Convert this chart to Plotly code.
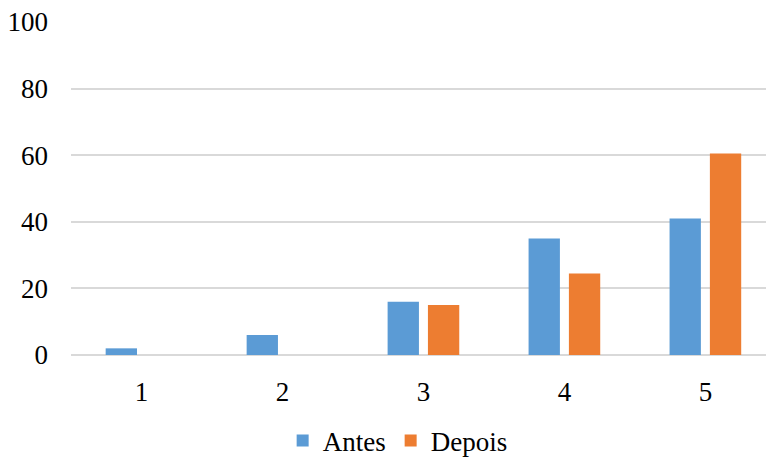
import plotly.graph_objects as go

categories = [1, 2, 3, 4, 5]
antes = [2, 6, 16, 35, 41]
depois = [0, 0, 15, 24.5, 60.5]
y_ticks = [0, 20, 40, 60, 80, 100]

font = dict(family="Liberation Serif", size=27, color="#000000")

fig = go.Figure()
fig.add_trace(go.Bar(
    x=categories, y=antes, name="Antes",
    marker=dict(color="#5B9BD5", line=dict(width=0)),
))
fig.add_trace(go.Bar(
    x=categories, y=depois, name="Depois",
    marker=dict(color="#ED7D31", line=dict(width=0)),
))

fig.update_layout(
    width=766, height=457,
    margin=dict(l=71, r=0, t=22, b=102, autoexpand=False),
    paper_bgcolor="white", plot_bgcolor="white",
    font=font,
    barmode="group", bargap=0.428, bargroupgap=0.223,
    showlegend=True,
    legend=dict(
        orientation="h", x=0.47, xanchor="center", y=-0.258, yanchor="middle",
        font=font, traceorder="normal", itemwidth=30,
    ),
)
fig.update_xaxes(
    range=[0.5, 5.43], tickvals=categories, ticktext=[str(c) for c in categories],
    showgrid=False, zeroline=False, showline=False, ticks="", ticklabelstandoff=18,
)
fig.update_yaxes(
    range=[0, 100], tickvals=y_ticks, showgrid=True, gridcolor="#D9D9D9", gridwidth=1.5,
    zeroline=True, zerolinecolor="#D9D9D9", zerolinewidth=1.5, showline=False,
    ticks="", ticklabelstandoff=22,
)

fig.write_html("out.html")
